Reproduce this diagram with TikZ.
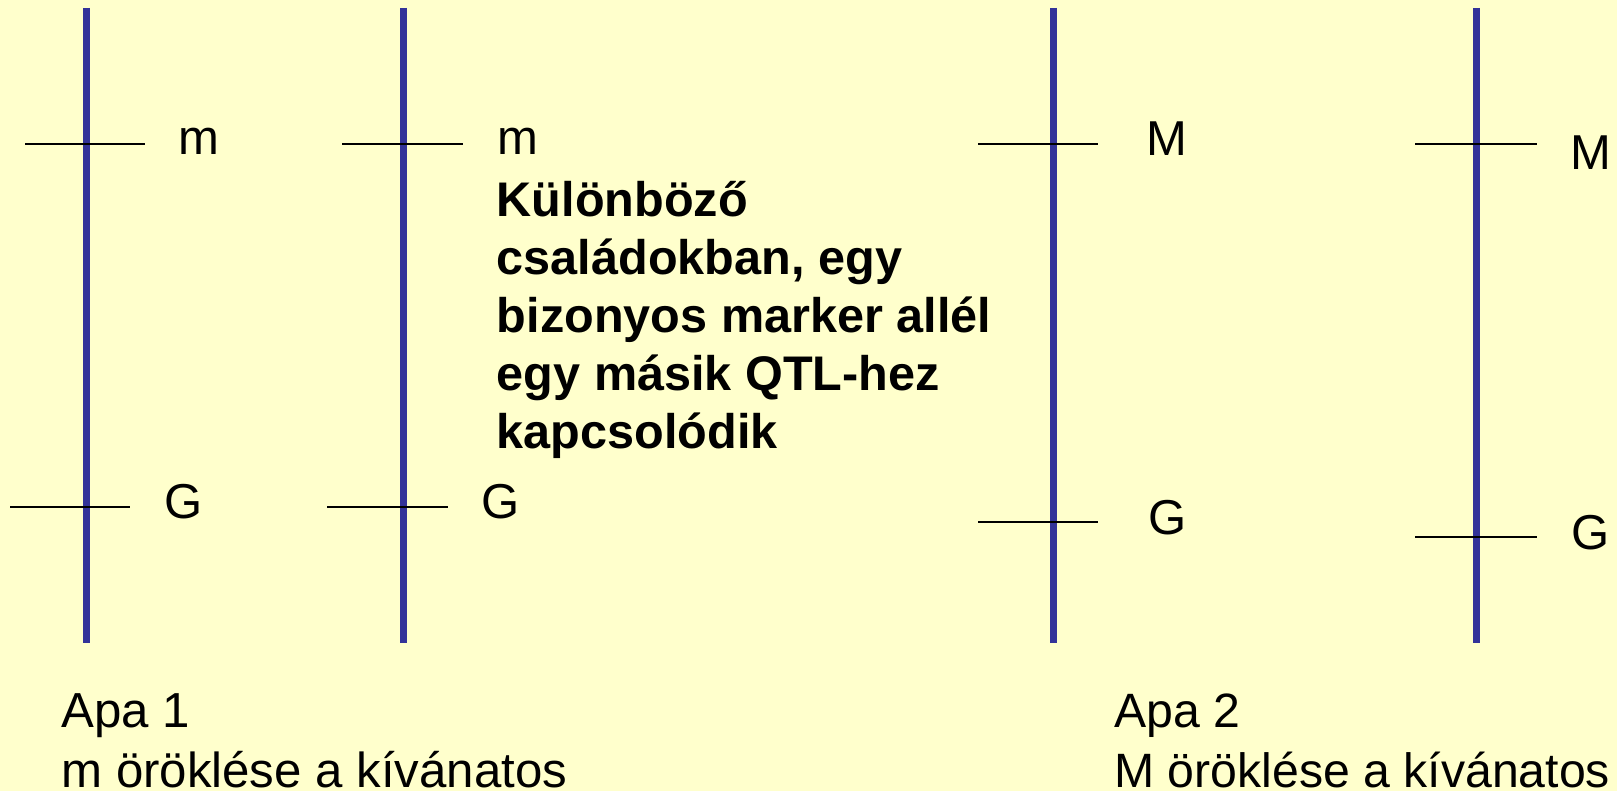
\documentclass[tikz,border=0pt]{standalone}
\usepackage{fontspec}
\setmainfont{Liberation Sans}
\definecolor{paper}{HTML}{FFFFCC}
\definecolor{chromblue}{HTML}{333399}
\tikzset{
  chrom/.style={draw=chromblue, line width=3.5pt},
  locus/.style={draw=black, line width=0.85pt},
  lbl/.style={anchor=base west, inner sep=0pt, font=\fontsize{24.5}{29}\selectfont},
  note/.style={anchor=base west, inner sep=0pt, align=left,
    font=\fontsize{24.3}{28.9}\selectfont\bfseries},
  caption/.style={anchor=base west, inner sep=0pt, align=left,
    font=\fontsize{24.6}{29.8}\selectfont},
}
\begin{document}
\begin{tikzpicture}[x=0.5pt, y=-0.5pt]
\path[fill=paper, use as bounding box] (0,0) rectangle (1617,791);

% chromosomes
\foreach \n/\x in {1/86, 2/403, 3/1053, 4/1476} {
  \coordinate (c\n t) at (\x,8);
  \coordinate (c\n b) at (\x,643);
  \draw[chrom] (c\n t) -- (c\n b);
}

% marker and QTL loci
\coordinate (m1a) at (25,144);   \coordinate (m1b) at (145,144);
\coordinate (g1a) at (10,507);   \coordinate (g1b) at (130,507);
\coordinate (m2a) at (342,144);  \coordinate (m2b) at (463,144);
\coordinate (g2a) at (327,507);  \coordinate (g2b) at (448,507);
\coordinate (m3a) at (978,144);  \coordinate (m3b) at (1098,144);
\coordinate (g3a) at (978,522);  \coordinate (g3b) at (1098,522);
\coordinate (m4a) at (1415,144); \coordinate (m4b) at (1537,144);
\coordinate (g4a) at (1415,537); \coordinate (g4b) at (1537,537);
\foreach \l in {m1,g1,m2,g2,m3,g3,m4,g4}
  \draw[locus] (\l a) -- (\l b);

% locus labels
\node[lbl] (lm1) at (178,155)    {m};
\node[lbl] (lm2) at (497,155)    {m};
\node[lbl] (lg1) at (164,518)    {G};
\node[lbl] (lg2) at (481,518)    {G};
\node[lbl] (lm3) at (1146.5,155.7) {M};
\node[lbl] (lm4) at (1570.5,170) {M};
\node[lbl] (lg3) at (1148,534)   {G};
\node[lbl] (lg4) at (1571,549)   {G};

% explanation (base anchor sits on the last line)
\node[note] (expl) at (496.5,448)
  {Különböző\\családokban, egy\\bizonyos marker allél\\egy másik QTL-hez\\kapcsolódik};

% sire captions
\node[caption] (apa1) at (61,787)   {Apa 1\\m öröklése a kívánatos};
\node[caption, font=\fontsize{24.1}{29.8}\selectfont] (apa2) at (1114,787)
  {Apa 2\\M öröklése a kívánatos};
\end{tikzpicture}
\end{document}
